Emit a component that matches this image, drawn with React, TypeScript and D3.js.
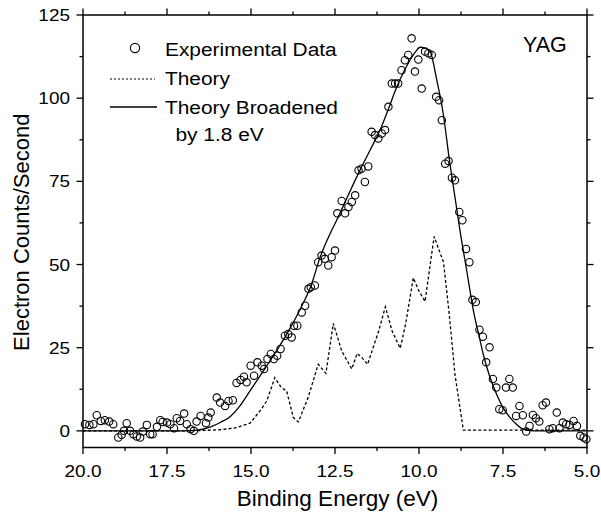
import React from "react";
import * as d3 from "d3";

// ---------- data ----------
const xMajorTicks = [20, 17.5, 15, 12.5, 10, 7.5, 5];
const xMinorTicks = [18.75, 16.25, 13.75, 11.25, 8.75, 6.25];
const yMajorTicks = [0, 25, 50, 75, 100, 125];
const yMinorTicks = [12.5, 37.5, 62.5, 87.5, 112.5];

const experimental: [number, number][] = [
  [19.94, 2.0], [19.81, 1.8], [19.69, 2.0], [19.59, 4.7], [19.47, 3.0], [19.35, 3.2],
  [19.22, 2.8], [19.1, 2.0], [18.95, -2], [18.85, -1.2], [18.78, 0], [18.7, 2.3],
  [18.6, 0], [18.5, -1], [18.4, -1.7], [18.3, -2], [18.22, -0.2], [18.1, 1.8],
  [18.0, -1], [17.93, -1], [17.8, 1.2], [17.7, 3.2], [17.63, 2.7], [17.5, 2.5],
  [17.4, 2.0], [17.29, 0.8], [17.21, 3.8], [17.11, 3.0], [16.99, 5.2], [16.91, 2.0],
  [16.8, 0.5], [16.7, 0], [16.62, 2.8], [16.5, 4.5], [16.34, 2.3], [16.27, 4],
  [16.2, 5.5], [16.02, 10], [15.92, 8.5], [15.77, 7.5], [15.67, 9], [15.54, 9.2],
  [15.43, 14.4], [15.31, 15.3], [15.21, 16.3], [15.13, 14.6], [15.01, 19.6], [14.91, 16.6],
  [14.81, 20.6], [14.68, 19.6], [14.61, 18.6], [14.51, 21.6], [14.41, 23.1], [14.32, 21.6],
  [14.22, 22.6], [14.12, 24.6], [13.99, 28.6], [13.89, 29.1], [13.79, 28.1], [13.72, 31.6],
  [13.62, 31.6], [13.49, 35.6], [13.39, 37.6], [13.29, 42.7], [13.22, 43.2], [13.1, 43.7],
  [13.0, 50.7], [12.9, 52.7], [12.8, 51.7], [12.7, 49.7], [12.6, 52.2], [12.5, 54.2],
  [12.43, 65.4], [12.3, 69.1], [12.2, 65.4], [12.1, 67.3], [12.0, 68.8], [11.9, 70.8],
  [11.8, 78.3], [11.71, 78.8], [11.61, 74.8], [11.51, 79.5], [11.41, 89.9], [11.31, 88.9],
  [11.21, 87.9], [11.11, 89.4], [11.01, 90.4], [10.91, 97.4], [10.81, 104.4], [10.71, 104.4],
  [10.62, 104.4], [10.52, 108.4], [10.42, 111.4], [10.32, 113], [10.22, 118], [10.12, 108],
  [10.02, 111.6], [9.92, 102.9], [9.82, 114], [9.72, 113.5], [9.62, 113], [9.49, 100.4],
  [9.4, 99.4], [9.32, 93.4], [9.22, 80.3], [9.12, 81.1], [9.02, 76.1], [8.93, 75.3],
  [8.8, 65.8], [8.71, 63.3], [8.6, 54.7], [8.5, 50.7], [8.41, 39.4], [8.31, 38.7],
  [8.2, 30.4], [8.1, 28.3], [8.0, 20.6], [7.9, 25.1], [7.8, 15.6], [7.7, 13],
  [7.61, 6.5], [7.51, 6.2], [7.41, 13], [7.31, 15.6], [7.21, 13], [7.11, 4.5],
  [7.01, 7.5], [6.91, 4.7], [6.81, -0.2], [6.71, 1.5], [6.61, 4.8], [6.52, 3.8],
  [6.42, 2.8], [6.32, 7.7], [6.22, 8.5], [6.12, 0.5], [6.02, 0.8], [5.9, 5.5],
  [5.82, 0.8], [5.72, 2.5], [5.62, 2.0], [5.52, 1.8], [5.4, 3.0], [5.3, 1.5],
  [5.2, -1.5], [5.1, -2], [5.02, -2.5],
];

const theory: [number, number][] = [
  [20, 0], [17, 0], [16.5, 0.1], [16, 0.3], [15.5, 0.8], [15.03, 2.3], [14.73, 6],
  [14.53, 9], [14.29, 16], [14.1, 13], [13.94, 12], [13.74, 4], [13.59, 2.7],
  [13.3, 10], [13.0, 20], [12.77, 17.3], [12.55, 32.3], [12.3, 24], [12.0, 18.6],
  [11.84, 23.3], [11.7, 22], [11.53, 20], [11.2, 30], [11.0, 37.3], [10.8, 30],
  [10.56, 24.8], [10.4, 32], [10.17, 46], [10.0, 42], [9.82, 38.9], [9.55, 58.4],
  [9.27, 50.7], [9.1, 35], [8.93, 17], [8.68, 0.2], [5, 0.2],
];

const broadened: [number, number][] = [
  [20, 0], [17.5, 0], [17, 0], [16.6, 0.2], [16.2, 1.2], [15.9, 2.6], [15.63, 4.2],
  [15.33, 7.5], [15.03, 12], [14.7, 17], [14.34, 22.5], [13.94, 29], [13.54, 36.5],
  [13.2, 44], [12.95, 52], [12.65, 59.2], [12.45, 63.3], [12.1, 71], [11.76, 78.3],
  [11.45, 84.5], [11.16, 90.4], [10.9, 97], [10.66, 103.4], [10.45, 108], [10.27, 111.4],
  [10.1, 114], [9.97, 115.3], [9.82, 115], [9.67, 114], [9.47, 105.4], [9.28, 95.4],
  [9.08, 80.3], [8.93, 70.3], [8.78, 60.2], [8.58, 48.2], [8.38, 36.1], [8.2, 28],
  [8.09, 23.1], [7.9, 16.5], [7.69, 11], [7.5, 7], [7.29, 4], [7.1, 2], [6.9, 0.5],
  [6.6, 0], [5, 0],
];

const legendLabels = ["Experimental Data", "Theory", "Theory Broadened", "by 1.8 eV"];
const sampleLabel = "YAG";
const xTitle = "Binding Energy (eV)";
const yTitle = "Electron Counts/Second";

// ---------- layout ----------
const W = 601, H = 517;
const L = 83, R = 587, T = 15, B = 447.5;
const FONT = "'Liberation Sans', Arial, Helvetica, sans-serif";

export default function App() {
  const x = d3.scaleLinear().domain([20, 5]).range([L, R]);
  const y = d3.scaleLinear().domain([-5, 125]).range([B, T]);

  const lineLin = d3.line<[number, number]>().x(d => x(d[0])).y(d => y(d[1])).curve(d3.curveLinear);
  const lineSmooth = d3.line<[number, number]>().x(d => x(d[0])).y(d => y(d[1])).curve(d3.curveMonotoneX);

  const major = 6.5, minor = 3.5;
  const axisW = 1.5;

  return (
    <svg width={W} height={H} style={{ position: "absolute", left: 0, top: 0, background: "#fff" }}
      fontFamily={FONT}>
      <rect x={0} y={0} width={W} height={H} fill="#fff" />
      <defs>
        <clipPath id="plot">
          <rect x={L} y={T} width={R - L} height={B - T} />
        </clipPath>
      </defs>

      {/* curves */}
      <g clipPath="url(#plot)">
        <path d={lineLin(theory) || ""} fill="none" stroke="#000" strokeWidth={1.3} strokeDasharray="3,2.2" />
        <path d={lineSmooth(broadened) || ""} fill="none" stroke="#000" strokeWidth={1.3} />
      </g>
      {experimental.map((d, i) => (
        <circle key={i} cx={x(d[0])} cy={y(d[1])} r={3.7} fill="none" stroke="#000" strokeWidth={1.1} />
      ))}

      {/* frame */}
      <rect x={L} y={T} width={R - L} height={B - T} fill="none" stroke="#000" strokeWidth={axisW} />

      {/* x ticks */}
      {xMajorTicks.map(t => (
        <g key={"xm" + t}>
          <line x1={x(t)} x2={x(t)} y1={B} y2={B + major} stroke="#000" strokeWidth={1.3} />
          <line x1={x(t)} x2={x(t)} y1={T} y2={T - major} stroke="#000" strokeWidth={1.3} />
          <text transform={`translate(${x(t)},477) scale(1.15,1)`} textAnchor="middle" fontSize={16.5}>
            {t.toFixed(1)}
          </text>
        </g>
      ))}
      {xMinorTicks.map(t => (
        <g key={"xn" + t}>
          <line x1={x(t)} x2={x(t)} y1={B} y2={B + minor} stroke="#000" strokeWidth={1.3} />
          <line x1={x(t)} x2={x(t)} y1={T} y2={T - minor} stroke="#000" strokeWidth={1.3} />
        </g>
      ))}

      {/* y ticks */}
      {yMajorTicks.map(t => (
        <g key={"ym" + t}>
          <line x1={L} x2={L - major} y1={y(t)} y2={y(t)} stroke="#000" strokeWidth={1.3} />
          <line x1={R} x2={R + major} y1={y(t)} y2={y(t)} stroke="#000" strokeWidth={1.3} />
          <text transform={`translate(70,${y(t) + 6}) scale(1.15,1)`} textAnchor="end" fontSize={16.5}>
            {String(t)}
          </text>
        </g>
      ))}
      {yMinorTicks.map(t => (
        <g key={"yn" + t}>
          <line x1={L} x2={L - minor} y1={y(t)} y2={y(t)} stroke="#000" strokeWidth={1.3} />
          <line x1={R} x2={R + minor} y1={y(t)} y2={y(t)} stroke="#000" strokeWidth={1.3} />
        </g>
      ))}

      {/* axis titles */}
      <text x={337.5} y={506} textAnchor="middle" fontSize={22.5}>{xTitle}</text>
      <text transform={`translate(29,${(T + B) / 2 + 1}) rotate(-90)`} textAnchor="middle" fontSize={22}>{yTitle}</text>

      {/* legend */}
      <circle cx={135} cy={48} r={4.6} fill="none" stroke="#000" strokeWidth={1.1} />
      <text transform="translate(165,56) scale(1.16,1)" fontSize={18}>{legendLabels[0]}</text>
      <line x1={110} x2={155} y1={79} y2={79} stroke="#000" strokeWidth={1.2} strokeDasharray="2,2" />
      <text transform="translate(165,85) scale(1.16,1)" fontSize={18}>{legendLabels[1]}</text>
      <line x1={110} x2={157} y1={107} y2={107} stroke="#000" strokeWidth={1.3} />
      <text transform="translate(165,113.5) scale(1.16,1)" fontSize={18}>{legendLabels[2]}</text>
      <text transform="translate(175.5,140.5) scale(1.16,1)" fontSize={18}>{legendLabels[3]}</text>

      <text x={523} y={52} fontSize={21.5}>{sampleLabel}</text>
    </svg>
  );
}
